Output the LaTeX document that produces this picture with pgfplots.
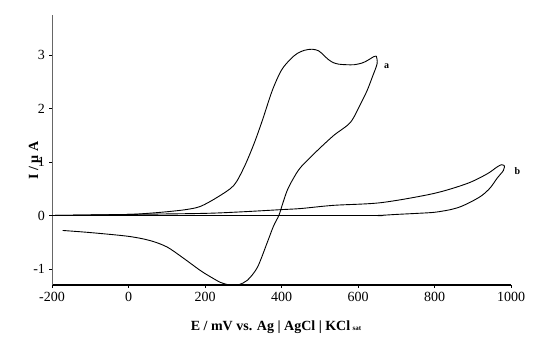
\documentclass[border=0pt]{standalone}
\usepackage{pgfplots}
\pgfplotsset{compat=1.18}
\usepackage{fontspec}
\setmainfont{Liberation Serif}
\begin{document}
\begin{tikzpicture}
\begin{axis}[
  scale only axis,
  width=459pt, height=270pt,
  xmin=-200, xmax=1000, ymin=-1.3, ymax=3.75,
  axis x line*=bottom, axis y line*=left,
  x axis line style={line width=1.6pt,-},
  y axis line style={line width=0.6pt,black!60,-},
  xtick={-200,0,200,400,600,800,1000},
  ytick={-1,0,1,2,3},
  tick align=outside, major tick length=2.5pt,
  tick style={black, line width=0.5pt},
  /pgf/number format/assume math mode=true,
  /pgf/number format/set thousands separator={},
  ticklabel style={font=\fontsize{14}{16}\selectfont},
  xticklabel style={yshift=-1pt},
  yticklabel style={xshift=-1pt},
  xlabel={\textbf{E / mV vs. Ag | AgCl | KCl}\,{\scriptsize\textbf{sat}}},
  ylabel={\textbf{I / \textmu\ A}},
  xlabel style={at={(axis description cs:0.488,-0.155)}, anchor=center, font=\fontsize{14}{16}\selectfont},
  ylabel style={at={(axis description cs:-0.037,0.46)}, anchor=center, font=\fontsize{14}{16}\selectfont},
  clip=false,
]
\coordinate (O) at (rel axis cs:0,0);
% curve a, forward scan
\addplot[black, line width=0.9pt, smooth, tension=0.5] coordinates {
(-200,0.0) (-100,0.01) (0,0.02) (50,0.04) (100,0.07) (150,0.11) (188,0.17) (232,0.34) (275,0.56) (302,0.9) (328,1.34) (350,1.78) (376,2.34) (400,2.72) (423,2.92) (441,3.03) (460,3.09) (480,3.11) (497,3.08) (510,3.0) (522,2.92) (535,2.86) (550,2.83) (570,2.82) (590,2.82) (610,2.85) (625,2.9) (641,2.97) (648,2.98)
};
% curve a, reverse scan
\addplot[black, line width=0.9pt, smooth, tension=0.5] coordinates {
(648,2.98) (650,2.84) (638,2.6) (624,2.34) (607,2.09) (580,1.74) (537,1.50) (493,1.21) (450,0.90) (430,0.68) (415,0.47) (403,0.22) (393,0.0) (379,-0.2) (363,-0.5) (337,-0.97) (311,-1.21) (290,-1.29) (275,-1.31) (258,-1.29) (240,-1.25) (215,-1.15) (188,-1.03) (144,-0.80) (101,-0.59) (57,-0.47) (0,-0.39) (-99,-0.32) (-172,-0.28)
};
% curve b, forward scan
\addplot[black, line width=0.9pt, smooth, tension=0.5] coordinates {
(-200,0.0) (0,0.02) (200,0.04) (300,0.07) (400,0.11) (450,0.13) (536,0.19) (660,0.24) (797,0.41) (886,0.6) (938,0.78) (962,0.9) (975,0.95) (983,0.93)
};
% curve b, reverse scan
\addplot[black, line width=0.9pt, smooth, tension=0.5] coordinates {
(983,0.93) (980,0.84) (964,0.7) (946,0.52) (925,0.38) (902,0.28) (870,0.17) (842,0.11) (800,0.06) (755,0.04) (700,0.02) (650,0.0) (600,0.0) (-200,0.0)
};
\node[font=\bfseries\fontsize{10}{12}\selectfont] at (axis cs:675,2.8) {a};
\node[font=\bfseries\fontsize{10}{12}\selectfont] at (axis cs:1017,0.83) {b};
\end{axis}
\pgfresetboundingbox
\path (O) ++(-52pt,-63pt) rectangle ++(538pt,348pt);
\end{tikzpicture}
\end{document}
